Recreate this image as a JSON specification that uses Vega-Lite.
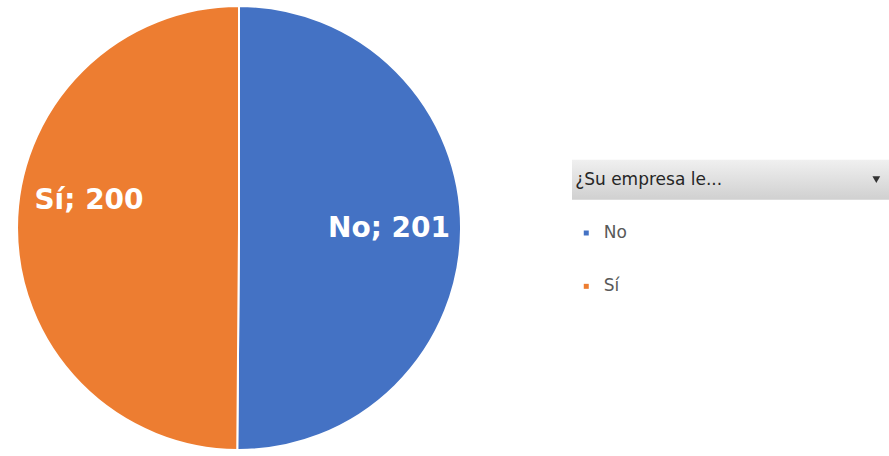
{
  "$schema": "https://vega.github.io/schema/vega-lite/v6.json",
  "padding": 0,
  "spacing": 94,
  "bounds": "flush",
  "config": {"view": {"stroke": null}, "font": "DejaVu Sans"},
  "datasets": {
    "answers": [
      {"answer": "No", "count": 201, "label": "No; 201"},
      {"answer": "Sí", "count": 200, "label": "Sí; 200"}
    ],
    "legend": [
      {"item": "header", "label": "¿Su empresa le..."},
      {"item": "No", "label": "No"},
      {"item": "Sí", "label": "Sí"}
    ]
  },
  "hconcat": [
    {
      "width": 478,
      "height": 456,
      "data": {"name": "answers"},
      "encoding": {
        "theta": {"field": "count", "type": "quantitative", "stack": true},
        "color": {
          "field": "answer",
          "type": "nominal",
          "scale": {"domain": ["No", "Sí"], "range": ["#4472C4", "#ED7D31"]},
          "legend": null
        },
        "order": {"field": "answer", "sort": "ascending"}
      },
      "layer": [
        {"mark": {"type": "arc", "outerRadius": 222, "stroke": "#ffffff", "strokeWidth": 2}},
        {
          "mark": {
            "type": "text",
            "radius": 150,
            "fontSize": 28,
            "fontWeight": "bold",
            "font": "DejaVu Sans",
            "fill": "#ffffff",
            "dy": {"expr": "datum.answer === 'Sí' ? -26 : 0"}
          },
          "encoding": {"text": {"field": "label", "type": "nominal"}, "color": {"value": "#ffffff"}}
        }
      ]
    },
    {
      "width": 317,
      "height": 456,
      "data": {"name": "legend"},
      "encoding": {
        "y": {
          "field": "item",
          "type": "nominal",
          "scale": {"domain": ["header", "No", "Sí"], "range": [153, 313], "paddingInner": 0, "paddingOuter": 0},
          "axis": null
        }
      },
      "layer": [
        {
          "transform": [{"filter": "datum.item === 'header'"}],
          "mark": {
            "type": "bar",
            "height": 40,
            "color": {
              "gradient": "linear",
              "x1": 0, "y1": 0, "x2": 0, "y2": 1,
              "stops": [{"offset": 0, "color": "#f0f0f0"}, {"offset": 1, "color": "#d0d0d0"}]
            }
          },
          "encoding": {
            "x": {"datum": 0, "type": "quantitative", "scale": {"domain": [0, 1]}, "axis": null},
            "x2": {"datum": 1}
          }
        },
        {
          "transform": [{"filter": "datum.item === 'header'"}],
          "mark": {"type": "text", "align": "left", "baseline": "middle", "fontSize": 17, "font": "DejaVu Sans", "color": "#262626"},
          "encoding": {
            "x": {"datum": 0.01, "type": "quantitative"},
            "text": {"field": "label"}
          }
        },
        {
          "transform": [{"filter": "datum.item === 'header'"}],
          "mark": {"type": "point", "shape": "triangle-down", "filled": true, "size": 60, "color": "#333333", "opacity": 1},
          "encoding": {"x": {"datum": 0.96, "type": "quantitative"}}
        },
        {
          "transform": [{"filter": "datum.item !== 'header'"}],
          "mark": {"type": "point", "shape": "square", "filled": true, "size": 25, "opacity": 1},
          "encoding": {
            "x": {"datum": 0.045, "type": "quantitative"},
            "color": {"field": "item", "type": "nominal", "legend": null}
          }
        },
        {
          "transform": [{"filter": "datum.item !== 'header'"}],
          "mark": {"type": "text", "align": "left", "baseline": "middle", "fontSize": 17, "font": "DejaVu Sans", "color": "#595959"},
          "encoding": {
            "x": {"datum": 0.1, "type": "quantitative"},
            "text": {"field": "label"}
          }
        }
      ]
    }
  ]
}
